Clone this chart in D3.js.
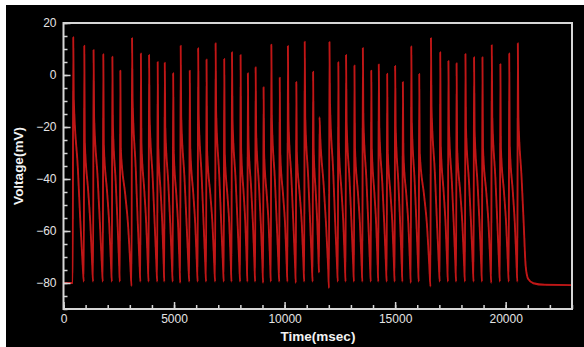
<!DOCTYPE html>
<html>
<head>
<meta charset="utf-8">
<script src="https://cdn.jsdelivr.net/npm/d3@7"></script>
<style>
  html, body { margin: 0; padding: 0; background: #ffffff; }
  svg { display: block; }
</style>
</head>
<body>
<svg id="chart" width="584" height="347"></svg>
<script>
// ---- data ----
const xTicks = [0, 5000, 10000, 15000, 20000];
const yTicks = [-80, -60, -40, -20, 0, 20];
const xTitle = "Time(msec)";
const yTitle = "Voltage(mV)";

// time of each spike peak (ms)
const spikeTimes = [440, 940, 1360, 1800, 2210, 2570, 3100, 3500, 3870, 4260,
  4580, 4960, 5300, 5710, 6090, 6470, 6880, 7270, 7620, 8010,
  8340, 8690, 9050, 9400, 9780, 10150, 10530, 10910, 11290, 11580,
  12030, 12430, 12780, 13160, 13540, 13920, 14260, 14640, 15000, 15350,
  15730, 16090, 16620, 17040, 17410, 17780, 18180, 18570, 18950, 19370,
  19760, 20160, 20550];
// peak voltage of each spike (mV)
const spikePeaks = [14.5, 11.3, 9.6, 8.0, 7.0, 1.7, 14.2, 8.3, 7.7, 5.0,
  4.7, 0.7, 11.3, 1.7, 10.3, 6.0, 12.2, 6.2, 8.8, 7.7,
  0.7, 3.0, -4.7, 11.7, -1.0, 11.2, -2.7, 12.8, 1.3, -16.2,
  12.7, 4.9, 7.7, 3.7, 10.4, 1.7, 4.1, 0.5, 3.5, -2.7,
  11.0, 0.4, 14.2, 8.8, 5.4, 4.5, 8.1, 6.8, 6.8, 11.5,
  4.2, 8.3, 12.2];
// shoulder (notch) voltage after each peak (mV)
const notchValues = [-9, -26, -16, -27, -19, -29, -9, -26, -16, -27,
  -20, -29, -16, -28, -15, -29, -14, -30, -17, -28,
  -24, -22, -30, -17, -30, -17, -30, -16, -28, -22,
  -11, -27, -18, -28, -17, -28, -20, -29, -20, -30,
  -18, -30, -12, -27, -19, -28, -20, -21, -28, -16,
  -28, -27, -16];
// minimum voltage just before each spike (mV)
const troughValues = [-80, -79.5, -79.5, -79.5, -79.5, -79.5, -81.2, -79.5, -79.5, -79.5,
  -79.5, -79.5, -80, -79.5, -79.5, -79.5, -79.5, -79.5, -79.5, -79.5,
  -79.5, -79.5, -80, -79.5, -79.5, -79.5, -80, -79.5, -79.5, -76,
  -82, -79.5, -79.5, -79.5, -79.5, -79.5, -79.5, -79.5, -79.5, -79.5,
  -80, -79.5, -81.4, -79.5, -79.5, -79.5, -79.5, -79.5, -79.5, -80,
  -79.5, -79.5, -79.5];
const restStart = -80;
const restEnd = -80.8;
const tEnd = 23000;

// ---- layout ----
const W = 584, H = 347;
const plot = { left: 63.5, right: 572, top: 23, bottom: 309 };

const svg = d3.select("#chart");
svg.append("rect").attr("x", 6).attr("y", 5).attr("width", W - 6).attr("height", H - 5).attr("fill", "#000");

const x = d3.scaleLinear().domain([0, 23000]).range([plot.left, plot.right]);
const y = d3.scaleLinear().domain([-90, 20]).range([plot.bottom, plot.top]);

// ---- build trace key points from the spike table ----
const pts = [[0, restStart]];
const n = spikeTimes.length;
for (let i = 0; i < n; i++) {
  const tp = spikeTimes[i], P = spikePeaks[i], N = notchValues[i], T = troughValues[i];
  pts.push([tp - 22, T]);
  pts.push([tp, P]);
  pts.push([tp + 24, N]);
  if (i < n - 1) {
    const tn = spikeTimes[i + 1], Tn = troughValues[i + 1];
    const isi = tn - tp;
    pts.push([tp + 0.42 * isi, (N - 57) / 2 - 3]);
    pts.push([tp + 0.65 * isi, -57]);
    pts.push([tp + 0.86 * isi, Math.max(-73.5, Tn + 4)]);
  } else {
    pts.push([tp + 170, (N - 57) / 2 - 3]);
    pts.push([tp + 265, -57]);
    pts.push([tp + 355, -73.5]);
    pts.push([tp + 470, -78.5]);
    pts.push([tp + 700, -80.1]);
    pts.push([tp + 1200, -80.7]);
    pts.push([tEnd, restEnd]);
  }
}

const line = d3.line().x(d => x(d[0])).y(d => y(d[1])).curve(d3.curveMonotoneX);

const defs = svg.append("defs");
defs.append("clipPath").attr("id", "clip")
  .append("rect").attr("x", plot.left).attr("y", plot.top)
  .attr("width", plot.right - plot.left).attr("height", plot.bottom - plot.top);
defs.append("filter").attr("id", "soft")
  .append("feGaussianBlur").attr("stdDeviation", 0.35);

svg.append("path").datum(pts)
  .attr("clip-path", "url(#clip)")
  .attr("filter", "url(#soft)")
  .attr("d", line)
  .attr("fill", "none")
  .attr("stroke", "#c01616")
  .attr("stroke-width", 1.9)
  .attr("stroke-linejoin", "round");

// ---- axes ----
const axisColor = "#d6d6d6";
const font = "'Liberation Sans', Arial, sans-serif";

const xMinor = svg.append("g").attr("transform", `translate(0,${plot.bottom})`)
  .call(d3.axisBottom(x).tickValues(d3.range(0, 23001, 1000)).tickSize(-4).tickFormat(""));
const xMajor = svg.append("g").attr("transform", `translate(0,${plot.bottom})`)
  .call(d3.axisBottom(x).tickValues(xTicks).tickSize(-7).tickPadding(5).tickFormat(d3.format("d")));
const yMinor = svg.append("g").attr("transform", `translate(${plot.left},0)`)
  .call(d3.axisLeft(y).tickValues(d3.range(-90, 20.1, 5)).tickSize(-4).tickFormat(""));
const yMajor = svg.append("g").attr("transform", `translate(${plot.left},0)`)
  .call(d3.axisLeft(y).tickValues(yTicks).tickSize(-7).tickPadding(7).tickFormat(d3.format("d")));

[xMinor, xMajor, yMinor, yMajor].forEach(g => {
  g.select(".domain").remove();
  g.selectAll(".tick line").attr("stroke", axisColor).attr("stroke-width", 1.5);
  g.selectAll(".tick text").attr("fill", "#e4e4e4").attr("font-family", font).attr("font-size", 12);
});

// frame
svg.append("rect")
  .attr("x", plot.left).attr("y", plot.top)
  .attr("width", plot.right - plot.left).attr("height", plot.bottom - plot.top)
  .attr("fill", "none").attr("stroke", axisColor).attr("stroke-width", 2);

// titles
svg.append("text").attr("x", 318).attr("y", 341)
  .attr("text-anchor", "middle").attr("fill", "#f2f2f2")
  .attr("font-family", font).attr("font-weight", "bold").attr("font-size", 13.5)
  .text(xTitle);
svg.append("text")
  .attr("transform", `translate(23,166) rotate(-90)`)
  .attr("text-anchor", "middle").attr("fill", "#f2f2f2")
  .attr("font-family", font).attr("font-weight", "bold").attr("font-size", 13.5)
  .text(yTitle);
</script>
</body>
</html>
